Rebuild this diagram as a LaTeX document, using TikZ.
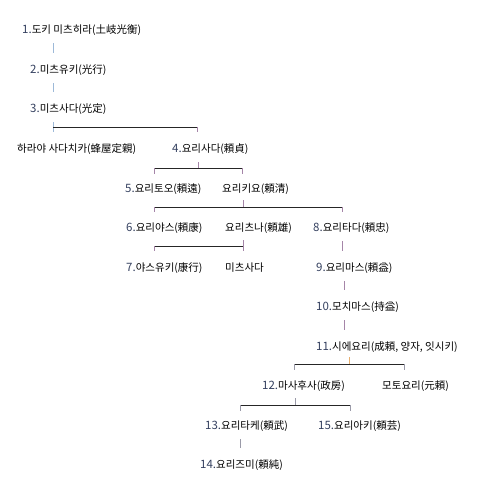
\documentclass[tikz,border=0pt]{standalone}
\usepackage{fontspec}
\newfontfamily\kr{Noto Sans CJK KR}
\usetikzlibrary{calc}
\definecolor{numblue}{HTML}{34405F}
\definecolor{lineblue}{HTML}{9DB9D8}
\definecolor{linepurple}{HTML}{A585A8}
\definecolor{lineorange}{HTML}{E8B070}
\definecolor{linegray}{HTML}{9A9AA8}
\newcommand{\nb}[1]{\textcolor{numblue}{\fontsize{11.5}{12}\selectfont #1}}

\begin{document}
\begin{tikzpicture}[x=1pt, y=-1pt,
  person/.style={anchor=base west, inner sep=0pt, text height=9pt, text depth=2pt,
    font=\kr\fontsize{10.5}{12}\selectfont},
  trunk/.style={draw=lineblue, shorten <=8pt, shorten >=11pt},
  bar/.style={draw=black!85}]
\useasboundingbox (0,0) rectangle (483,480);

% generations
\node[person] (n1) at (22,33) {\nb{1.}도키 미츠히라(土岐光衡)};
\node[person] (n2) at (30,73) {\nb{2.}미츠유키(光行)};
\node[person] (n3) at (30,112) {\nb{3.}미츠사다(光定)};
\node[person] (hachiya) at (17,152) {하라야 사다치카(蜂屋定親)};
\node[person] (n4) at (172,152) {\nb{4.}요리사다(頼貞)};
\node[person] (n5) at (125,192) {\nb{5.}요리토오(頼遠)};
\node[person] (kiyo) at (222,192) {요리키요(頼清)};
\node[person] (n6) at (126,231) {\nb{6.}요리야스(頼康)};
\node[person] (tsuna) at (225,231) {요리츠나(頼雄)};
\node[person] (n8) at (313,231) {\nb{8.}요리타다(頼忠)};
\node[person] (n7) at (126,271) {\nb{7.}야스유키(康行)};
\node[person] (msada) at (225,271) {미츠사다};
\node[person] (n9) at (316,271) {\nb{9.}요리마스(頼益)};
\node[person] (n10) at (316,310) {\nb{10.}모치마스(持益)};
\node[person] (n11) at (316,350) {\nb{11.}시에요리(成頼, 양자, 잇시키)};
\node[person] (n12) at (262,389) {\nb{12.}마사후사(政房)};
\node[person] (moto) at (382,389) {모토요리(元頼)};
\node[person] (n13) at (205,429) {\nb{13.}요리타케(頼武)};
\node[person] (n15) at (318,429) {\nb{15.}요리아키(頼芸)};
\node[person] (n14) at (200,468) {\nb{14.}요리즈미(頼純)};

% line columns and bars
\coordinate (colA) at (53,0);
\coordinate (col9) at (342,0);
\coordinate (col10) at (344,0);
\coordinate (col14) at (240,0);
\coordinate (b3l) at (53,127);   \coordinate (b3r) at (197,127);
\coordinate (b4l) at (154,168);  \coordinate (b4r) at (242,168);  \coordinate (b4m) at (198,168);
\coordinate (bkl) at (154,207);  \coordinate (bkr) at (342,207);  \coordinate (bkm) at (243,207);
\coordinate (btl) at (154,246);  \coordinate (btr) at (243,246);
\coordinate (b11l) at (294,364); \coordinate (b11r) at (404,364); \coordinate (b11m) at (349,364);
\coordinate (b12l) at (240,405); \coordinate (b12r) at (350,405); \coordinate (b12m) at (295,405);

% straight lines
\draw[trunk] (n1.south -| colA) -- (n2.north -| colA);
\draw[trunk] (n2.south -| colA) -- (n3.north -| colA);
\draw[trunk, draw=linepurple] (n8.south -| col9) -- (n9.north -| col9);
\draw[trunk, draw=linepurple] (n9.south -| col10) -- (n10.north -| col10);
\draw[trunk, draw=linepurple] (n10.south -| col10) -- (n11.north -| col10);
\draw[trunk, draw=linegray] (n13.south -| col14) -- (n14.north -| col14);

% brackets
\draw[draw=lineblue] ($(n3.south -| b3l)+(0,8)$) -- ($(b3l)+(0,5)$);
\draw[bar] (b3l) -- (b3r);
\draw[draw=linepurple] (b3r) -- ++(0,5);

\draw[draw=linepurple] ($(n4.south -| b4m)+(0,8)$) -- (b4m);
\draw[bar] (b4l) -- (b4r);
\draw[draw=linepurple] (b4l) -- ++(0,6);
\draw[draw=linepurple] (b4r) -- ++(0,6);

\draw[draw=linepurple] ($(kiyo.south -| bkm)+(0,6)$) -- (bkm);
\draw[bar] (bkl) -- (bkr);
\draw[draw=linepurple] (bkl) -- ++(0,5);
\draw[draw=linepurple] (bkr) -- ++(0,5);

\draw[draw=linepurple] ($(tsuna.south -| btr)+(0,7)$) -- ($(btr)+(0,5)$);
\draw[bar] (btl) -- (btr);
\draw[draw=linepurple] (btl) -- ++(0,5);

\draw[draw=lineorange] ($(n11.south -| b11m)+(0,5)$) -- (b11m);
\draw[bar] (b11l) -- (b11r);
\draw[draw=linegray] (b11l) -- ++(0,6);
\draw[draw=linegray] (b11r) -- ++(0,6);

\draw[draw=linegray] ($(n12.south -| b12m)+(0,7)$) -- (b12m);
\draw[bar] (b12l) -- (b12r);
\draw[draw=linegray] (b12l) -- ++(0,6);
\draw[draw=linegray] (b12r) -- ++(0,6);
\end{tikzpicture}
\end{document}
